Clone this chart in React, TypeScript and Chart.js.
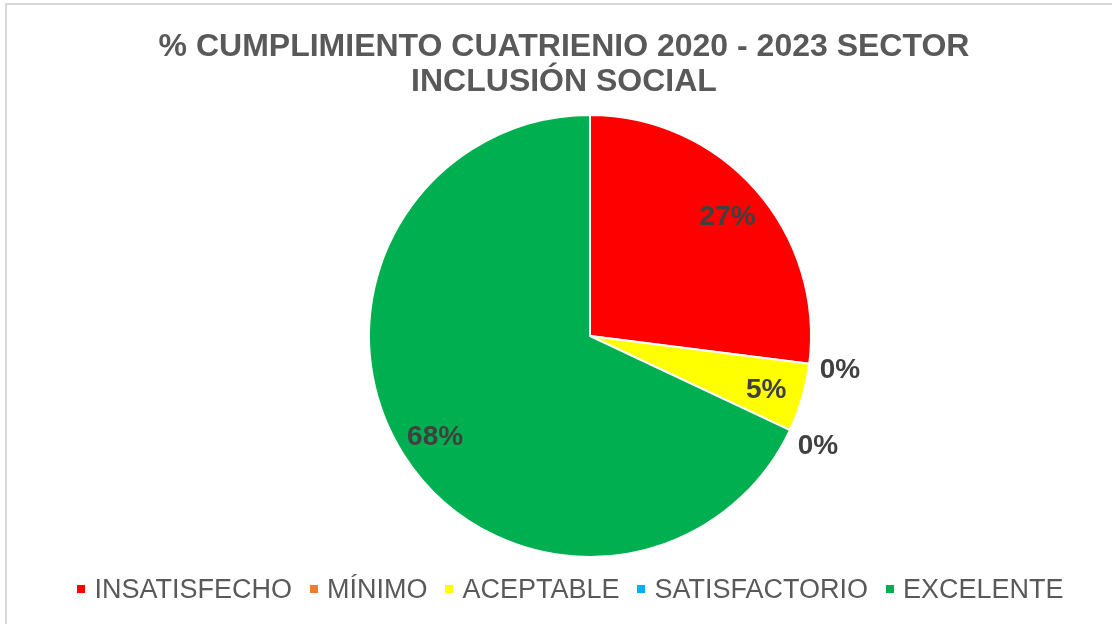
import React, { useEffect, useRef } from "react";
import { Chart, registerables } from "chart.js";

Chart.register(...registerables);

const TITLE_LINES = ["% CUMPLIMIENTO CUATRIENIO 2020 - 2023 SECTOR", "INCLUSIÓN SOCIAL"];
const CATEGORIES = ["INSATISFECHO", "MÍNIMO", "ACEPTABLE", "SATISFACTORIO", "EXCELENTE"];
const VALUES = [27, 0, 5, 0, 68];
const COLORS = ["#FF0000", "#ED7D31", "#FFFF00", "#00B0F0", "#00B050"];

const FONT = "'Liberation Sans', Arial, sans-serif";

const labelPlugin = {
  id: "sliceLabels",
  afterDatasetsDraw(chart: any) {
    const ctx = chart.ctx;
    const meta = chart.getDatasetMeta(0);
    ctx.save();
    ctx.font = `bold 28px ${FONT}`;
    ctx.fillStyle = "#404040";
    ctx.textAlign = "center";
    ctx.textBaseline = "middle";
    meta.data.forEach((arc: any, i: number) => {
      const p = arc.getProps(["x", "y", "startAngle", "endAngle", "outerRadius"], true);
      const mid = (p.startAngle + p.endAngle) / 2;
      const v = VALUES[i];
      const r = v > 0 ? p.outerRadius * 0.83 : p.outerRadius * 1.14;
      const x = p.x + Math.cos(mid) * r;
      const y = p.y + Math.sin(mid) * r + 3;
      ctx.fillText(`${v}%`, x, y);
    });
    ctx.restore();
  },
};

export default function App() {
  const ref = useRef<HTMLCanvasElement | null>(null);

  useEffect(() => {
    if (!ref.current) return;
    const chart = new Chart(ref.current, {
      type: "pie",
      data: {
        labels: CATEGORIES,
        datasets: [
          {
            data: VALUES,
            backgroundColor: COLORS,
            borderColor: "#FFFFFF",
            borderWidth: 2,
          },
        ],
      },
      options: {
        animation: false,
        responsive: false,
        radius: 221,
        layout: { padding: { left: 68, top: 48, right: 0, bottom: 0 } },
        plugins: {
          legend: { display: false },
          title: { display: false },
          tooltip: { enabled: false },
        },
      } as any,
      plugins: [labelPlugin],
    });
    return () => chart.destroy();
  }, []);

  return (
    <div
      style={{
        position: "absolute",
        left: 0,
        top: 0,
        width: 1112,
        height: 624,
        overflow: "hidden",
        background: "#FFFFFF",
        fontFamily: FONT,
      }}
    >
      <div
        style={{
          position: "absolute",
          left: 5,
          top: 3,
          width: 1200,
          height: 700,
          border: "2px solid #D9D9D9",
        }}
      />
      <canvas
        ref={ref}
        width={1112}
        height={624}
        style={{ position: "absolute", left: 0, top: 0, width: 1112, height: 624 }}
      />
      <div
        style={{
          position: "absolute",
          left: 0,
          top: 28,
          width: 1128,
          textAlign: "center",
          fontWeight: "bold",
          fontSize: 32,
          lineHeight: "35px",
          color: "#595959",
          whiteSpace: "nowrap",
        }}
      >
        {TITLE_LINES.map((t) => (
          <div key={t}>{t}</div>
        ))}
      </div>
      <div
        style={{
          position: "absolute",
          left: 0,
          top: 574,
          width: 1141,
          display: "flex",
          justifyContent: "center",
          gap: 18,
          fontSize: 27,
          lineHeight: "30px",
          color: "#595959",
          whiteSpace: "nowrap",
        }}
      >
        {CATEGORIES.map((c, i) => (
          <div key={c} style={{ display: "flex", alignItems: "center" }}>
            <span
              style={{
                display: "inline-block",
                width: 8,
                height: 8,
                background: COLORS[i],
                marginRight: 9,
              }}
            />
            <span>{c}</span>
          </div>
        ))}
      </div>
    </div>
  );
}
